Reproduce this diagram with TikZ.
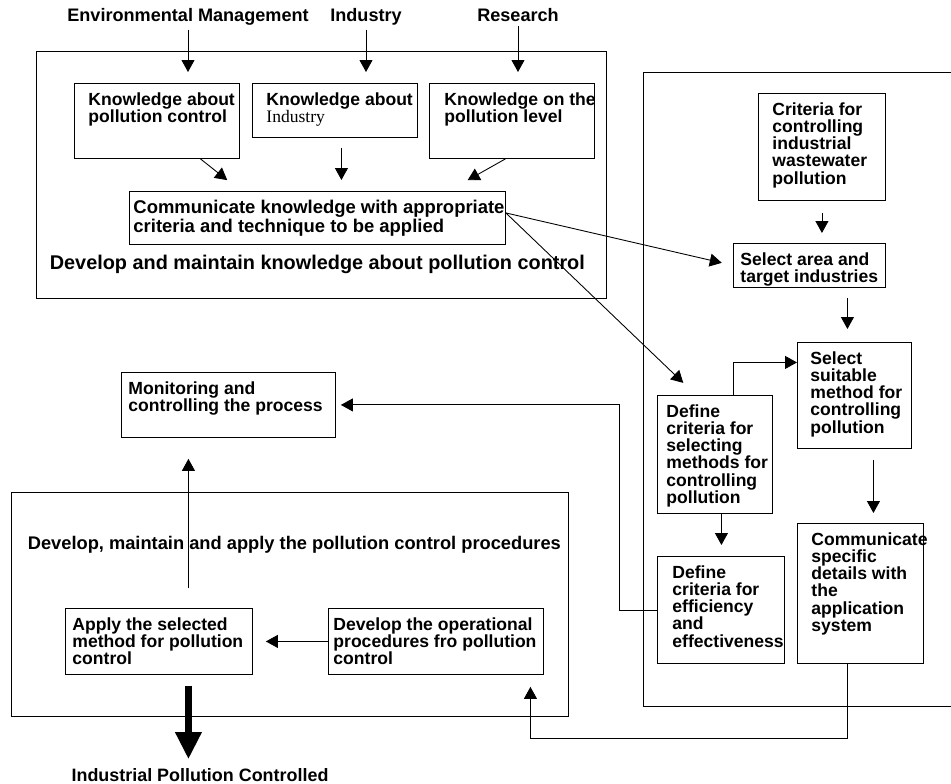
\documentclass[tikz,border=0pt]{standalone}
\usepackage{fontspec}
\setmainfont{Liberation Sans}
\newfontfamily\serifind{Liberation Serif}
\usetikzlibrary{arrows.meta}

\newlength{\pxu}
\setlength{\pxu}{0.02cm}
\hfuzz=5cm
\vfuzz=5cm
\hbadness=10000
\vbadness=10000
\newcommand{\boxfont}{\fontsize{10}{9.8}\selectfont\bfseries}
% box text: width, height, left pad (px), then the lines
\newcommand{\bt}[4]{\parbox[t][\dimexpr#2\pxu-18\pxu\relax][t]{#1\pxu}{\leftskip=#3\pxu\rightskip=0pt minus 4cm\relax#4}}

\begin{document}
\begin{tikzpicture}[
        x=0.02cm, y=-0.02cm,
        block/.style={draw, rectangle, anchor=north west, inner xsep=0pt, inner ysep=0.18cm, font=\boxfont, line width=0.5pt},
        lbl/.style={font=\boxfont, inner sep=2pt},
        frame/.style={line width=0.5pt},
        arrow/.style={line width=0.5pt, -{Triangle[length=0.24cm, width=0.26cm]}},
        bigarrow/.style={line width=0.13cm, -{Triangle[length=0.54cm, width=0.5cm]}}
    ]
    \useasboundingbox (0,0) rectangle (951,784);

    % Frames
    \draw[frame] (36,51) rectangle (606,298);
    \draw[frame] (951,72) -- (643,72) -- (643,706) -- (951,706);
    \draw[frame] (11,492) rectangle (568,716);

    % Sources
    \node[lbl, anchor=base, font=\fontsize{10.3}{12}\selectfont\bfseries] (envlbl) at (188,22) {Environmental Management};
    \node[lbl, anchor=base, font=\fontsize{10.3}{12}\selectfont\bfseries] (indlbl) at (366,22) {Industry};
    \node[lbl, anchor=base, font=\fontsize{10.3}{12}\selectfont\bfseries] (reslbl) at (518,22) {Research};

    % Knowledge boxes
    \node[block] (kpc) at (74,83) {\bt{165}{75}{14}{Knowledge about\\pollution control}};
    \node[block] (kind) at (252,83) {\bt{165}{54}{14}{Knowledge about\\{\serifind\mdseries Industry}}};
    \node[block] (klev) at (429,83) {\bt{165}{75}{15}{Knowledge on the\\pollution level}};
    \node[block, font=\fontsize{10.5}{9.8}\selectfont\bfseries] (comm) at (129,191) {\bt{376}{53}{4}{Communicate knowledge with appropriate\\criteria and technique to be applied}};
    \node[lbl, anchor=west, font=\fontsize{11.3}{12}\selectfont\bfseries] (knowlbl) at (46,264) {Develop and maintain knowledge about pollution control};

    % Criteria boxes
    \node[block] (crit) at (758,93) {\bt{127}{107}{14}{Criteria for\\controlling\\industrial\\wastewater\\pollution}};
    \node[block] (selarea) at (733,243) {\bt{152}{44}{7}{Select area and\\target industries}};
    \node[block] (selmeth) at (797,342) {\bt{114}{106}{13}{Select\\suitable\\method for\\controlling\\pollution}};
    \node[block] (defsel) at (657,395) {\bt{115}{118}{9}{Define\\criteria for\\selecting\\methods for\\controlling\\pollution}};
    \node[block] (defeff) at (657,556) {\bt{127}{107}{15}{Define\\criteria for\\efficiency\\and\\effectiveness}};
    \node[block] (commspec) at (797,523) {\bt{126}{140}{14}{Communicate\\specific\\details with\\the\\application\\system}};

    % Procedure boxes
    \node[block] (monitor) at (121,372) {\bt{214}{65}{7}{Monitoring and\\controlling the process}};
    \node[lbl, anchor=west, font=\fontsize{10.4}{12}\selectfont\bfseries] (proclbl) at (24,545) {Develop, maintain and apply the pollution control procedures};
    \node[block] (apply) at (65,608) {\bt{187}{66}{7}{Apply the selected\\method for pollution\\control}};
    \node[block] (devop) at (328,608) {\bt{215}{66}{5}{Develop the operational\\procedures fro pollution\\control}};
    \node[lbl, anchor=base, font=\fontsize{10.2}{12}\selectfont\bfseries] (result) at (200,781) {Industrial Pollution Controlled};

    % Inputs
    \draw[arrow, shorten >=0.22cm] (envlbl.south) -- (envlbl.south |- kpc.north);
    \draw[arrow, shorten >=0.22cm] (indlbl.south) -- (indlbl.south |- kind.north);
    \draw[arrow, shorten >=0.22cm] (reslbl.south) -- (reslbl.south |- klev.north);

    % Knowledge flow
    \draw[arrow, shorten >=0.35cm] ([shift={(43.5,0)}]kpc.south) -- ([shift={(-76.5,0)}]comm.north);
    \draw[arrow, shorten <=0.2cm, shorten >=0.22cm] ([shift={(6.5,0)}]kind.south) -- ([shift={(6.5,0)}]kind.south |- comm.north);
    \draw[arrow, shorten >=0.44cm] ([shift={(-6.5,0)}]klev.south) -- ([shift={(131,0)}]comm.north);
    \draw[arrow, shorten >=0.23cm] ([shift={(0,-5)}]comm.east) -- (selarea.west);
    \draw[arrow, shorten >=0.35cm] ([shift={(0,-5)}]comm.east) -- ([shift={(-19,0)}]defsel.north);

    % Criteria flow
    \draw[arrow, shorten <=0.24cm, shorten >=0.2cm] (crit.south) -- (crit.south |- selarea.north);
    \draw[arrow, shorten <=0.2cm, shorten >=0.26cm] ([shift={(38,0)}]selarea.south) -- ([shift={(38,0)}]selarea.south |- selmeth.north);
    \draw[arrow] ([shift={(18.5,0)}]defsel.north) |- ([shift={(0,-33)}]selmeth.west);
    \draw[arrow, shorten >=0.22cm] ([shift={(6.5,0)}]defsel.south) -- ([shift={(6.5,0)}]defsel.south |- defeff.north);
    \draw[arrow, shorten <=0.22cm, shorten >=0.2cm] ([shift={(19,0)}]selmeth.south) -- ([shift={(19,0)}]selmeth.south |- commspec.north);

    % Feedback to procedures
    \draw[arrow, shorten >=0.1cm] (defeff.west) -- ++(-38,0) |- (monitor.east);
    \draw[arrow, shorten >=0.24cm] ([shift={(-13,0)}]commspec.south) -- ++(0,75) -| ([shift={(94.5,0)}]devop.south);
    \draw[arrow, shorten >=0.26cm] (devop.west) -- (apply.east);
    \draw[arrow, shorten <=0.4cm, shorten >=0.42cm] ([shift={(29.5,0)}]apply.north) -- ([shift={(29.5,0)}]apply.north |- monitor.south);
    \draw[bigarrow, shorten <=0.22cm, shorten >=0.1cm] ([shift={(29.5,0)}]apply.south) -- ([shift={(29.5,0)}]apply.south |- result.north);
\end{tikzpicture}
\end{document}
